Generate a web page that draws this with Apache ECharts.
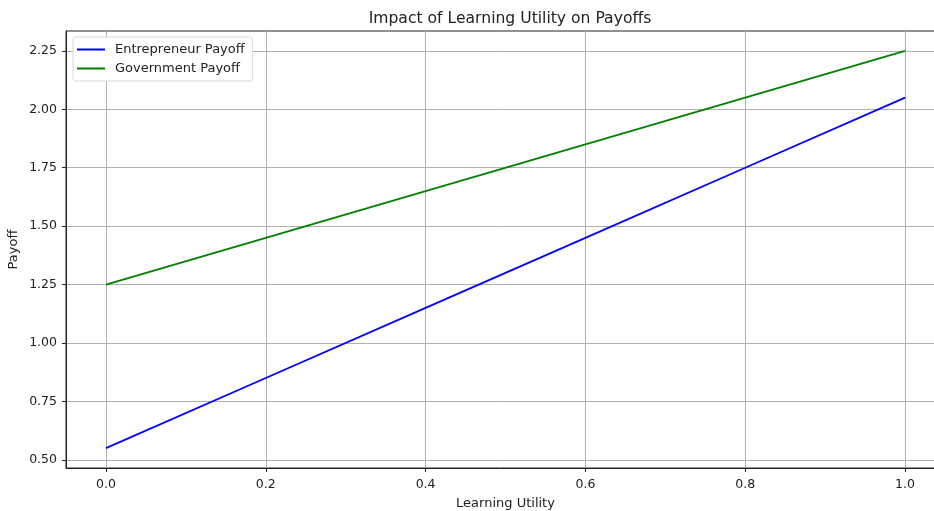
<!DOCTYPE html>
<html>
<head>
<meta charset="utf-8">
<script src="https://cdn.jsdelivr.net/npm/echarts@6/dist/echarts.min.js"></script>
<style>
html,body{margin:0;padding:0;background:#fff;}
#chart{width:934px;height:511px;}
</style>
</head>
<body>
<div id="chart"></div>
<script>
const learningUtility = [0.0, 0.2, 0.4, 0.6, 0.8, 1.0];
const entrepreneurPayoff = [0.55, 0.85, 1.15, 1.45, 1.75, 2.05];
const governmentPayoff = [1.25, 1.45, 1.65, 1.85, 2.05, 2.25];
const xTicks = [0.0, 0.2, 0.4, 0.6, 0.8, 1.0];
const yTicks = [0.50, 0.75, 1.00, 1.25, 1.50, 1.75, 2.00, 2.25];
const seriesNames = ['Entrepreneur Payoff', 'Government Payoff'];

const font = 'DejaVu Sans';
const chart = echarts.init(document.getElementById('chart'), null, {renderer: 'canvas'});
chart.setOption({
  animation: false,
  backgroundColor: '#ffffff',
  title: {
    text: 'Impact of Learning Utility on Payoffs',
    left: 505, top: 6, textAlign: 'center',
    textStyle: {fontFamily: font, fontSize: 15.6, fontWeight: 'normal', color: '#222'}
  },
  legend: {
    orient: 'vertical', left: 73, top: 37,
    padding: [6, 8, 6, 4],
    itemWidth: 28, itemHeight: 2, itemGap: 6,
    backgroundColor: '#ffffff', borderColor: '#d9d9d9', borderWidth: 1, borderRadius: 3,
    icon: 'rect',
    textStyle: {fontFamily: font, fontSize: 13, color: '#222', padding: [0, 0, 0, 5]},
    data: seriesNames
  },
  grid: {left: 66, top: 31, width: 879, bottom: 43, show: true, borderColor: '#222', borderWidth: 1,
    containLabel: false, outerBoundsMode: 'none'},
  xAxis: {
    type: 'value', min: -0.05, max: 1.05,
    name: 'Learning Utility', nameLocation: 'middle', nameGap: 29,
    nameTextStyle: {fontFamily: font, fontSize: 13, color: '#222'},
    axisLine: {onZero: false, lineStyle: {color: '#222', width: 1}},
    axisTick: {show: true, length: 4, customValues: xTicks, lineStyle: {color: '#222'}},
    axisLabel: {customValues: xTicks, fontFamily: font, fontSize: 12.5, color: '#222', margin: 10,
      formatter: v => v.toFixed(1)},
    splitLine: {show: true, lineStyle: {color: '#b0b0b0', width: 1}}
  },
  yAxis: {
    type: 'value', min: 0.465, max: 2.335,
    name: 'Payoff', nameLocation: 'middle', nameGap: 46, nameRotate: 90, nameMoveOverlap: false,
    nameTextStyle: {fontFamily: font, fontSize: 13, color: '#222'},
    axisLine: {show: true, onZero: false, lineStyle: {color: '#222', width: 1}},
    axisTick: {show: true, length: 4, customValues: yTicks, lineStyle: {color: '#222'}},
    axisLabel: {customValues: yTicks, fontFamily: font, fontSize: 12.5, color: '#222', margin: 9,
      formatter: v => v.toFixed(2)},
    splitLine: {show: true, lineStyle: {color: '#b0b0b0', width: 1}}
  },
  series: [
    {
      name: seriesNames[0], type: 'line', symbol: 'none',
      data: learningUtility.map((x, i) => [x, entrepreneurPayoff[i]]),
      lineStyle: {color: '#0000ff', width: 1.8}, itemStyle: {color: '#0000ff'}
    },
    {
      name: seriesNames[1], type: 'line', symbol: 'none',
      data: learningUtility.map((x, i) => [x, governmentPayoff[i]]),
      lineStyle: {color: '#008000', width: 1.8}, itemStyle: {color: '#008000'}
    }
  ]
});
</script>
</body>
</html>
